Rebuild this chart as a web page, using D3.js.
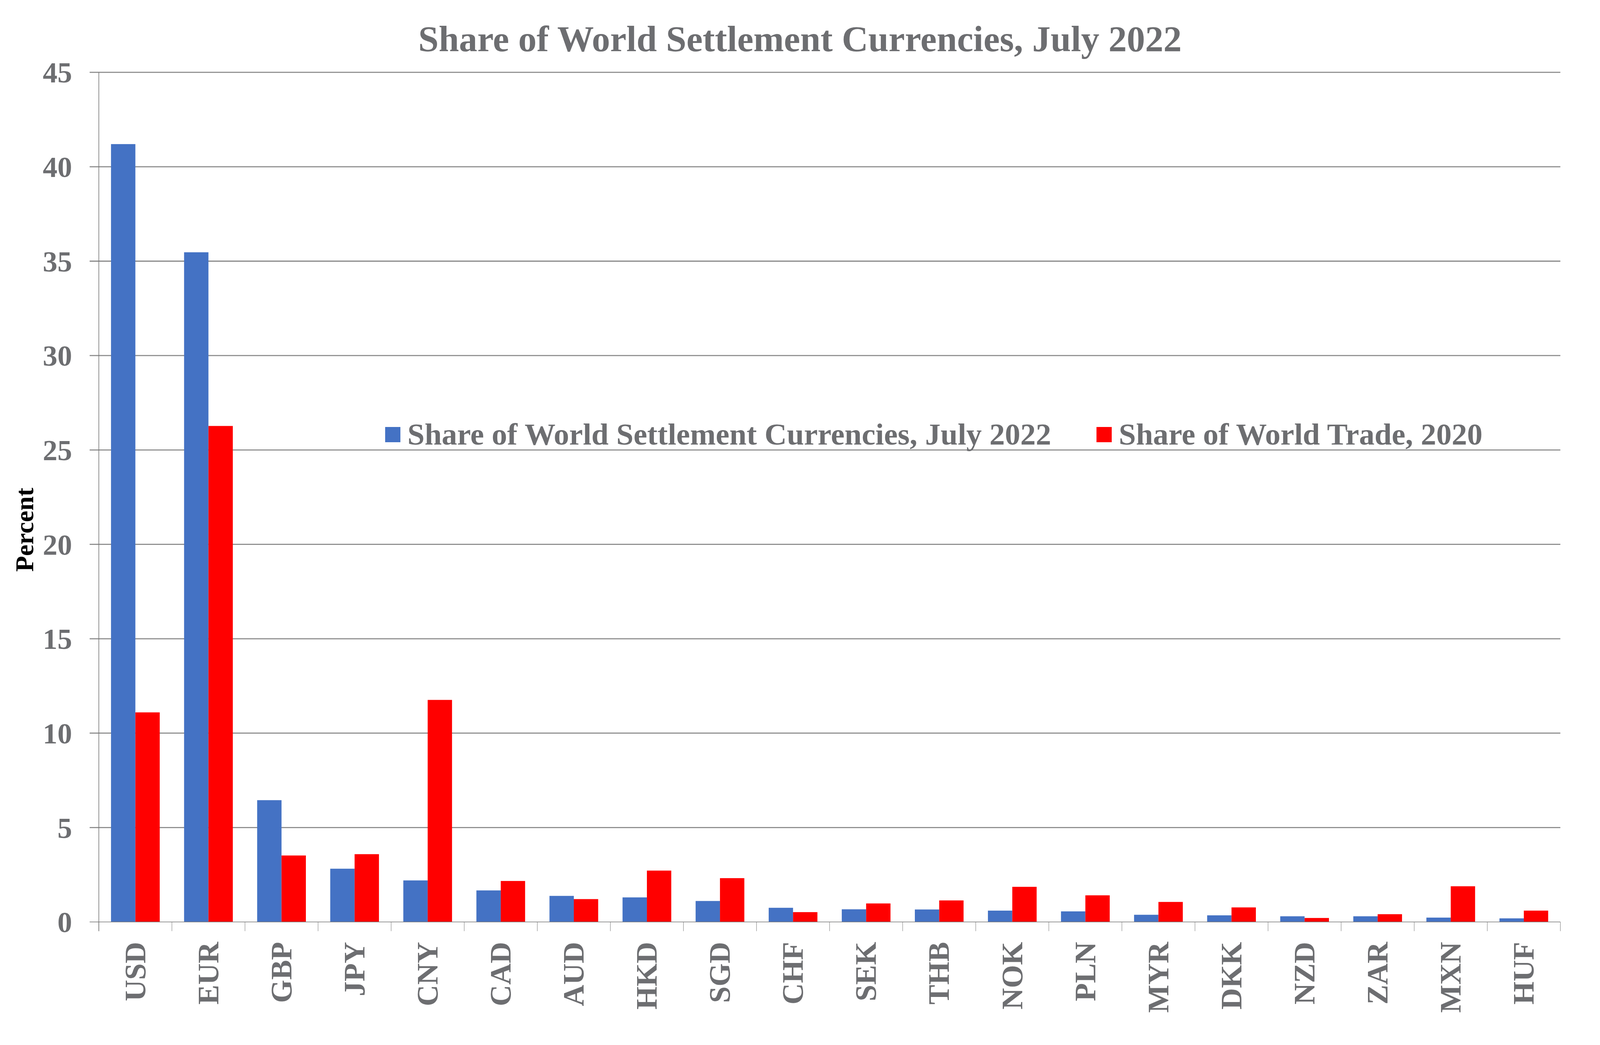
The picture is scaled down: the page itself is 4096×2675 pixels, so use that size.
<!DOCTYPE html>
<html>
<head>
<meta charset="utf-8">
<script src="https://cdn.jsdelivr.net/npm/d3@7"></script>
<style>
  html, body { margin: 0; padding: 0; background: #fff; }
  svg { display: block; }
  text { font-family: "Liberation Serif", "Times New Roman", serif; font-weight: bold; }
</style>
</head>
<body>
<script>
const categories = ["USD","EUR","GBP","JPY","CNY","CAD","AUD","HKD","SGD","CHF","SEK","THB","NOK","PLN","MYR","DKK","NZD","ZAR","MXN","HUF"];
const settlementShare = [41.2,35.47,6.45,2.82,2.20,1.67,1.38,1.30,1.11,0.75,0.67,0.66,0.60,0.56,0.38,0.35,0.30,0.30,0.23,0.19];
const tradeShare = [11.1,26.27,3.52,3.59,11.76,2.17,1.21,2.72,2.32,0.52,0.98,1.14,1.86,1.41,1.06,0.77,0.21,0.41,1.89,0.60];
const seriesNames = ["Share of World Settlement Currencies, July 2022","Share of World Trade, 2020"];
const yTicks = [0,5,10,15,20,25,30,35,40,45];
const titleText = "Share of World Settlement Currencies, July 2022";
const yAxisTitle = "Percent";

(function () {
const W = 4096, H = 2675;
const pLeft = 253, pRight = 3994.5, pTop = 185.2, pBottom = 2360;
const grey = "#6D6E71";
const colors = ["#4472C4", "#FF0000"];

const svg = d3.select("body").append("svg").attr("width", W).attr("height", H);

const x0 = d3.scaleBand().domain(categories).range([pLeft, pRight]).paddingInner(1/3).paddingOuter(1/6);
const x1 = d3.scaleBand().domain([0,1]).range([0, x0.bandwidth()]);
const y = d3.scaleLinear().domain([0,45]).range([pBottom, pTop]);

// gridlines
svg.append("g").selectAll("line").data(yTicks.filter(d => d > 0)).join("line")
  .attr("x1", pLeft - 23.5).attr("x2", pRight)
  .attr("y1", d => y(d)).attr("y2", d => y(d))
  .attr("stroke", "#898989").attr("stroke-width", 2.8);

// y tick mark at 0
svg.append("line").attr("x1", pLeft - 23.5).attr("x2", pLeft).attr("y1", y(0)).attr("y2", y(0))
  .attr("stroke", "#767676").attr("stroke-width", 1.6);

// y tick labels
svg.append("g").selectAll("text").data(yTicks).join("text")
  .attr("x", pLeft - 68.5).attr("y", d => y(d)).attr("dy", "0.35em")
  .attr("text-anchor", "end").attr("font-size", 75).attr("fill", grey)
  .text(d => d);

// bars
const series = [settlementShare, tradeShare];
series.forEach((vals, si) => {
  svg.append("g").selectAll("rect").data(categories).join("rect")
    .attr("x", (c) => x0(c) + x1(si))
    .attr("width", x1.bandwidth())
    .attr("y", (c, i) => y(vals[i]))
    .attr("height", (c, i) => y(0) - y(vals[i]))
    .attr("fill", colors[si]);
});

// x axis line
svg.append("line").attr("x1", pLeft).attr("x2", pRight).attr("y1", y(0)).attr("y2", y(0))
  .attr("stroke", "#767676").attr("stroke-width", 1.6);
// y axis line
svg.append("line").attr("x1", pLeft).attr("x2", pLeft).attr("y1", pTop).attr("y2", y(0) + 23.5)
  .attr("stroke", "#767676").attr("stroke-width", 1.6);

// category boundary ticks
const step = x0.step();
const boundaries = d3.range(categories.length + 1).map(i => pLeft + i * step);
svg.append("g").selectAll("line").data(boundaries).join("line")
  .attr("x1", d => d).attr("x2", d => d)
  .attr("y1", y(0)).attr("y2", y(0) + 23.5)
  .attr("stroke", "#767676").attr("stroke-width", 1);

// x tick labels (rotated)
svg.append("g").selectAll("text").data(categories).join("text")
  .attr("transform", c => `translate(${x0(c) + x0.bandwidth()/2},${y(0) + 51}) rotate(-90)`)
  .attr("text-anchor", "end").attr("dy", "0.33em")
  .attr("font-size", 76).attr("fill", grey)
  .text(c => c);

// title
svg.append("text").attr("x", 2048).attr("y", 131)
  .attr("text-anchor", "middle").attr("font-size", 93.7).attr("fill", grey)
  .text(titleText);

// y axis title
svg.append("text").attr("transform", "translate(84.5,1356) rotate(-90)")
  .attr("text-anchor", "middle").attr("font-size", 66).attr("fill", "#000")
  .text(yAxisTitle);

// legend
const legendPos = [{sx: 986, tx: 1043}, {sx: 2807, tx: 2864}];
seriesNames.forEach((name, i) => {
  svg.append("rect").attr("x", legendPos[i].sx).attr("y", 1093).attr("width", 39).attr("height", 39)
    .attr("fill", colors[i]);
  svg.append("text").attr("x", legendPos[i].tx).attr("y", 1138)
    .attr("font-size", 79).attr("fill", grey).text(name);
});
})();
</script>
</body>
</html>
